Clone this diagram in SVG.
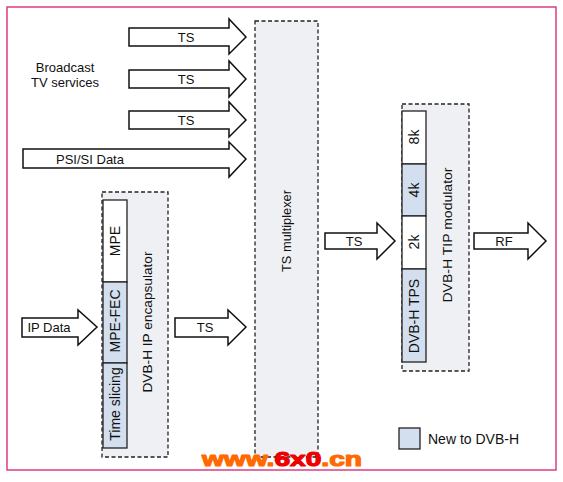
<svg xmlns="http://www.w3.org/2000/svg" width="563" height="482" viewBox="0 0 563 482">
<style>
.t{font-family:"Liberation Sans",Arial,sans-serif;font-size:13px;fill:#111}
.v{font-family:"Liberation Sans",Arial,sans-serif;font-size:14px;fill:#111}
.vl{font-family:"Liberation Sans",Arial,sans-serif;font-size:13px;fill:#111}
.arr{fill:#fff;stroke:#111;stroke-width:1.5;stroke-linejoin:miter}
.dash{fill:#eff0f4;stroke:#222;stroke-width:1.3;stroke-dasharray:4 2.5}
.cell{stroke:#222;stroke-width:1.3}
.w{fill:#fff}
.b{fill:#d3dfee}
.wm{font-family:"Liberation Sans",Arial,sans-serif;font-weight:bold;font-size:21px;stroke-width:1.2;stroke-linejoin:round}
.o{fill:#ff6a00;stroke:#ff6a00}
.r{fill:#ee0000;stroke:#ee0000}
</style>
<rect x="0" y="0" width="563" height="482" fill="#fff"/>
<rect x="7" y="7" width="549" height="463" fill="#fff" stroke="#dd3c82" stroke-width="1.5"/>

<g id="mux">
<rect class="dash" x="255" y="21" width="63" height="436"/>
<text class="vl" transform="translate(291,231) rotate(-90)" text-anchor="middle" textLength="82" lengthAdjust="spacingAndGlyphs">TS multiplexer</text>
</g>

<g id="encapsulator">
<rect class="dash" x="102" y="192" width="66" height="265"/>
<rect class="cell w" x="103" y="200" width="24" height="82"/>
<rect class="cell b" x="103" y="282" width="24" height="81"/>
<rect class="cell b" x="103" y="363" width="24" height="85"/>
<text class="v" transform="translate(120,241) rotate(-90)" text-anchor="middle">MPE</text>
<text class="v" transform="translate(120,321) rotate(-90)" text-anchor="middle">MPE-FEC</text>
<text class="v" transform="translate(120,404) rotate(-90)" text-anchor="middle">Time slicing</text>
<text class="vl" transform="translate(152,322) rotate(-90)" text-anchor="middle" textLength="141" lengthAdjust="spacingAndGlyphs">DVB-H IP encapsulator</text>
</g>

<g id="modulator">
<rect class="dash" x="402" y="104" width="67" height="267"/>
<rect class="cell w" x="402" y="111" width="24" height="53"/>
<rect class="cell b" x="402" y="164" width="24" height="52"/>
<rect class="cell w" x="402" y="216" width="24" height="53"/>
<rect class="cell b" x="402" y="269" width="24" height="93"/>
<text class="v" transform="translate(419,137) rotate(-90)" text-anchor="middle">8k</text>
<text class="v" transform="translate(419,190) rotate(-90)" text-anchor="middle">4k</text>
<text class="v" transform="translate(419,242) rotate(-90)" text-anchor="middle">2k</text>
<text class="v" transform="translate(419,316) rotate(-90)" text-anchor="middle">DVB-H TPS</text>
<text class="vl" transform="translate(452,235) rotate(-90)" text-anchor="middle" textLength="135" lengthAdjust="spacingAndGlyphs">DVB-H TIP modulator</text>
</g>

<g id="broadcast">
<text class="t" x="65" y="72" text-anchor="middle">Broadcast</text>
<text class="t" x="65" y="87" text-anchor="middle">TV services</text>
</g>

<g id="connectors">
<polygon class="arr" points="129,28 229,28 229,19 246,37 229,54 229,46 129,46"/>
<text class="t" x="186" y="42" text-anchor="middle">TS</text>
<polygon class="arr" points="129,70 229,70 229,61 246,79 229,97 229,88 129,88"/>
<text class="t" x="186" y="84" text-anchor="middle">TS</text>
<polygon class="arr" points="129,111 229,111 229,102 246,120 229,137 229,129 129,129"/>
<text class="t" x="186" y="125" text-anchor="middle">TS</text>
<polygon class="arr" points="23,149 229,149 229,142 246,159 229,177 229,168 23,168"/>
<text class="t" x="90" y="164" text-anchor="middle">PSI/SI Data</text>
<polygon class="arr" points="22,318 78,318 78,310 97,327 78,345 78,337 22,337"/>
<text class="t" x="49" y="332" text-anchor="middle">IP Data</text>
<polygon class="arr" points="175,318 228,318 228,310 246,327 228,345 228,337 175,337"/>
<text class="t" x="205" y="332" text-anchor="middle">TS</text>
<polygon class="arr" points="325,233 377,233 377,223 395,241 377,259 377,249 325,249"/>
<text class="t" x="354" y="246" text-anchor="middle">TS</text>
<polygon class="arr" points="474,233 528,233 528,223 546,241 528,259 528,249 474,249"/>
<text class="t" x="504" y="246" text-anchor="middle">RF</text>
</g>

<g id="legend">
<rect class="cell b" x="399" y="428" width="21" height="21"/>
<text class="t" x="428" y="444" style="font-size:14px">New to DVB-H</text>
</g>

<g id="watermark">
<text class="wm" transform="translate(202,466) scale(1.34,1)"><tspan class="o">www.</tspan><tspan class="r">6x0</tspan><tspan class="o">.cn</tspan></text>
</g>
</svg>
